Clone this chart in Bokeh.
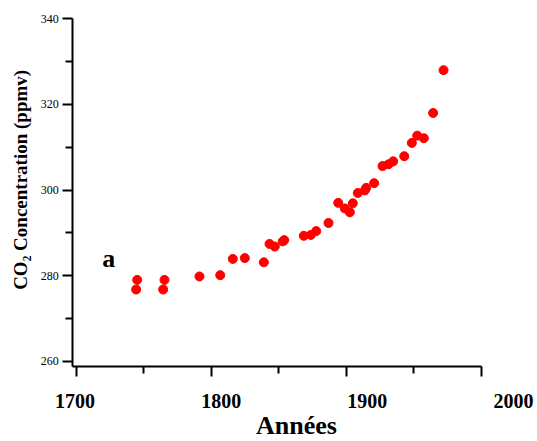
import math
from bokeh.plotting import figure
from bokeh.models import Range1d, Label, FixedTicker, LinearAxis
from bokeh.embed import file_html
from bokeh.resources import INLINE

# Data
years = [1745.2, 1744.4, 1765.4, 1764.4, 1791.3, 1806.7, 1816.0, 1824.9,
         1839.0, 1843.2, 1847.1, 1853.0, 1854.1, 1868.6, 1873.8, 1877.8,
         1886.9, 1894.1, 1899.0, 1902.7, 1904.9, 1908.6, 1913.8, 1914.8,
         1920.7, 1926.9, 1931.3, 1934.8, 1943.0, 1948.6, 1952.6, 1957.5,
         1964.4, 1972.1]
co2_ppmv = [279.0, 276.75, 279.0, 276.75, 279.8, 280.1, 283.9, 284.1,
            283.1, 287.4, 286.8, 288.0, 288.3, 289.3, 289.5, 290.4,
            292.3, 297.0, 295.7, 294.8, 296.9, 299.3, 299.9, 300.5,
            301.6, 305.6, 306.0, 306.7, 307.9, 311.0, 312.7, 312.1,
            318.0, 328.0]

x_ticks = [1700, 1800, 1900, 2000]
x_minor_ticks = [1750, 1850, 1950]
y_ticks = [260, 280, 300, 320, 340]
y_minor_ticks = [270, 290, 310, 330]

x_title = "Années"
y_title = "CO\u2082  Concentration (ppmv)"
panel_label = "a"
panel_label_x = 1719.3
panel_label_y = 287.4

SERIF = "Liberation Serif"

# view ranges (the whole canvas is the plotting frame)
X0, X1 = 1643.93, 2041.7
Y0, Y1 = 241.24, 344.28
# where the axes cross
X_AXIS_AT = 258.76
Y_AXIS_AT = 1697.48

p = figure(width=537, height=441, output_backend="svg", toolbar_location=None,
           x_range=Range1d(X0, X1), y_range=Range1d(Y0, Y1), min_border=0)

p.grid.visible = False
p.outline_line_color = None
p.background_fill_color = "white"
p.border_fill_color = "white"

xa = p.xaxis[0]
ya = p.yaxis[0]
xa.fixed_location = X_AXIS_AT
ya.fixed_location = Y_AXIS_AT
xa.bounds = (Y_AXIS_AT, x_ticks[-1])
ya.bounds = (X_AXIS_AT, y_ticks[-1])
xa.ticker = FixedTicker(ticks=x_ticks, minor_ticks=x_minor_ticks)
ya.ticker = FixedTicker(ticks=y_ticks, minor_ticks=y_minor_ticks)

for ax in (xa, ya):
    ax.axis_line_width = 2
    ax.major_tick_line_width = 2
    ax.minor_tick_line_width = 2
    ax.major_tick_out = 10
    ax.major_tick_in = 0
    ax.minor_tick_out = 7
    ax.minor_tick_in = 0
    ax.axis_line_color = "black"
    ax.major_tick_line_color = "black"
    ax.minor_tick_line_color = "black"

# main x axis: line and ticks only (year labels are on the row below)
xa.major_label_overrides = {t: "" for t in x_ticks}

# label row for the years, placed as in the reference
p.extra_x_ranges = {"labels": Range1d(1649.03, 2016.4)}
xl = LinearAxis(x_range_name="labels", fixed_location=X_AXIS_AT,
                ticker=FixedTicker(ticks=x_ticks, minor_ticks=[]))
xl.axis_line_color = None
xl.major_tick_line_color = None
xl.minor_tick_line_color = None
xl.major_tick_out = 0
xl.minor_tick_out = 0
xl.major_tick_in = 0
xl.minor_tick_in = 0
xl.major_label_text_font = SERIF
xl.major_label_text_font_style = "bold"
xl.major_label_text_font_size = "20px"
xl.major_label_text_color = "black"
xl.major_label_standoff = 27
p.add_layout(xl, "below")

ya.major_label_text_font = SERIF
ya.major_label_text_font_size = "12px"
ya.major_label_text_color = "black"
ya.major_label_standoff = 4

p.scatter(years, co2_ppmv, size=9, color="#ff0000", line_color="#ff0000")

p.add_layout(Label(x=panel_label_x, y=panel_label_y, text=panel_label,
                   text_font=SERIF, text_font_style="bold",
                   text_font_size="26px", text_color="black",
                   text_baseline="top", text_align="left"))

# axis titles
p.add_layout(Label(x=296, y=31, x_units="screen", y_units="screen",
                   text=x_title, text_font=SERIF, text_font_style="bold",
                   text_font_size="26px", text_color="black",
                   text_baseline="top", text_align="center"))
p.add_layout(Label(x=20, y=264, x_units="screen", y_units="screen",
                   angle=math.pi / 2,
                   text=y_title, text_font=SERIF, text_font_style="bold",
                   text_font_size="19px", text_color="black",
                   text_baseline="middle", text_align="center"))

open("out.html", "w").write(file_html(p, INLINE))
